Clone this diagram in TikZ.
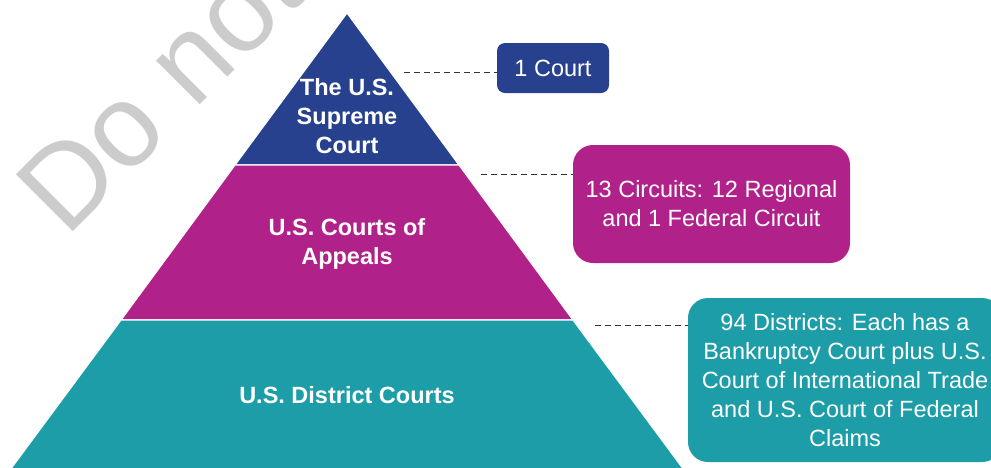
\documentclass[tikz,border=0pt]{standalone}
\usepackage{fontspec}
\setmainfont{Liberation Sans}
\definecolor{supblue}{RGB}{39,65,142}
\definecolor{appmag}{RGB}{176,34,138}
\definecolor{distteal}{RGB}{28,157,168}

\begin{document}
\begin{tikzpicture}[x=1pt, y=-1pt,
  tier/.style={draw=white, line width=1.2pt},
  tiertext/.style={text=white, inner sep=0pt, align=center, font=\fontsize{23.5}{29}\selectfont\bfseries},
  infobox/.style={text=white, inner sep=0pt, align=center, font=\fontsize{23.5}{29}\selectfont},
  leader/.style={draw=black!80, line width=1pt, dash pattern=on 6pt off 4pt}]
\useasboundingbox (0,0) rectangle (991,467);
\clip (0,0) rectangle (991,467);
% watermark
\node[rotate=45, anchor=base west, inner sep=0pt, text=black!20, font=\fontsize{117}{117}\selectfont] (mark) at (66,239) {Do not};
% pyramid
\draw[tier, fill=supblue] (347,13) -- (459,165) -- (235,165) -- cycle;
\draw[tier, fill=appmag] (235,165) -- (459,165) -- (573,320) -- (121,320) -- cycle;
\draw[tier, fill=distteal] (121,320) -- (573,320) -- (684,470) -- (10,470) -- cycle;
\node[tiertext] (supreme) at (347,116.5) {The U.S.\\Supreme\\Court};
\node[tiertext] (appeals) at (347,244) {U.S. Courts of\\Appeals};
\node[tiertext] (district) at (347,395) {U.S. District Courts};
% boxes on the right
\node[infobox, fill=supblue, rounded corners=8pt, minimum width=112pt, minimum height=50pt] (court1) at (553,68) {1 Court};
\node[infobox, fill=appmag, rounded corners=20pt, minimum width=277pt, minimum height=118pt] (circuits) at (711.5,204) {13 Circuits: 12 Regional\\and 1 Federal Circuit};
\node[infobox, fill=distteal, rounded corners=20pt, minimum width=314pt, minimum height=164pt] (districts) at (845,380) {94 Districts: Each has a\\Bankruptcy Court plus U.S.\\Court of International Trade\\and U.S. Court of Federal\\Claims};
% dashed leaders
\coordinate (lead1) at (404,72);
\coordinate (lead2) at (481,174);
\coordinate (lead3) at (595,325);
\draw[leader] (lead1) -- (lead1 -| court1.west);
\draw[leader] (lead2) -- (lead2 -| circuits.west);
\draw[leader] (lead3) -- (lead3 -| districts.west);
\end{tikzpicture}
\end{document}
